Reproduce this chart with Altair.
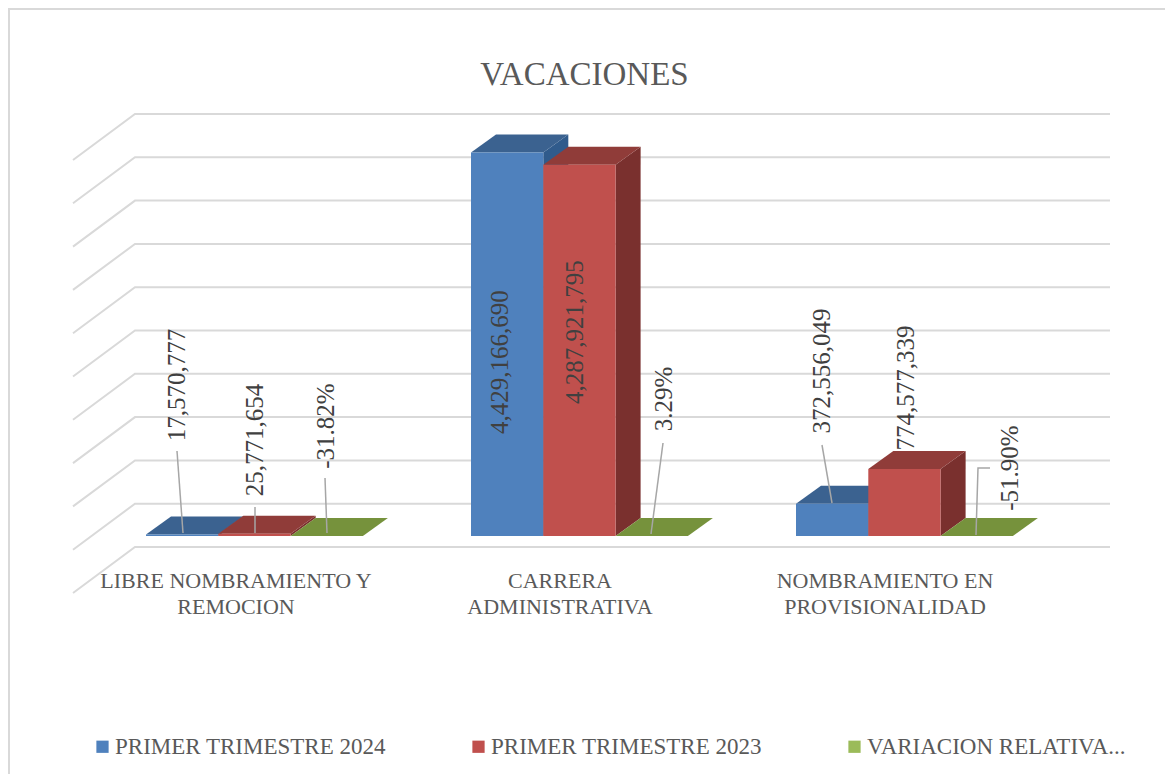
import altair as alt
import pandas as pd

# ---- values ----
CATEGORIES = ["LIBRE NOMBRAMIENTO Y REMOCION", "CARRERA ADMINISTRATIVA", "NOMBRAMIENTO EN PROVISIONALIDAD"]
CATEGORY_LINES = [["LIBRE NOMBRAMIENTO Y", "REMOCION"], ["CARRERA", "ADMINISTRATIVA"], ["NOMBRAMIENTO EN", "PROVISIONALIDAD"]]
SERIES = ["PRIMER TRIMESTRE 2024", "PRIMER TRIMESTRE 2023", "VARIACION RELATIVA..."]
S2024 = [17570777, 4429166690, 372556049]
S2023 = [25771654, 4287921795, 774577339]
VARIATION = [-0.3182, 0.0329, -0.5190]
LABELS_2024 = ["17,570,777", "4,429,166,690", "372,556,049"]
LABELS_2023 = ["25,771,654", "4,287,921,795", "774,577,339"]
LABELS_VAR = ["-31.82%", "3.29%", "-51.90%"]
GRID_STEP = 500_000_000
GRID_COUNT = 11

# ---- layout (page pixels) ----
W, H = 1157, 766
PX_PER_UNIT = 86.6e-9
BASE_Y = 536
def val(py):
    return (BASE_Y - py) / PX_PER_UNIT
X0, STEP, BAR = 146, 325, 72.3
DX, DY = 25, 18
WALL_L, WALL_R, WALL_DX, WALL_DY, WALL_OFF = 135, 1110, -62, 46, 11

x_scale = alt.Scale(domain=[8, 8 + W], range=[0, W])
y_scale = alt.Scale(domain=[val(8 + H), val(8)], range=[H, 0])
X = lambda f="x": alt.X(f"{f}:Q", scale=x_scale, axis=None)
Y = lambda f="y": alt.Y(f"{f}:Q", scale=y_scale, axis=None)

COLORS = ["#4F81BD", "#C0504D", "#9BBB59"]
TOPS = ["#3B6290", "#903C39", "#76923C"]
SIDES = ["#305B8C", "#7A302E", "#5F7530"]
dy_val = DY / PX_PER_UNIT

# ---- grid ----
grid_rows = []
for k in range(GRID_COUNT):
    v = k * GRID_STEP - WALL_OFF / PX_PER_UNIT
    grid_rows += [
        {"k": k, "o": 0, "x": WALL_L + WALL_DX, "y": v - WALL_DY / PX_PER_UNIT},
        {"k": k, "o": 1, "x": WALL_L, "y": v},
        {"k": k, "o": 2, "x": WALL_R, "y": v},
    ]
grid = alt.Chart(pd.DataFrame(grid_rows)).mark_line(color="#D9D9D9", strokeWidth=2).encode(
    x=X(), y=Y(), detail="k:N", order="o:Q")

# ---- frame: only the top and left edges show in the reference ----
frame_df = pd.DataFrame({"o": [0, 1, 2], "x": [1165, 9, 9], "y": [val(9), val(9), val(774)]})
frame = alt.Chart(frame_df).mark_line(color="#D9D9D9", strokeWidth=2).encode(x=X(), y=Y(), order="o:Q")

# ---- boxes ----
layers = [grid]
values = [S2024, S2023, [v for v in VARIATION]]

LABEL_POS = [
    [(177, 385), (500, 362), (822, 371)],
    [(255, 440), (575, 332), (906, 388)],
    [(326, 426), (664, 399), (1010, 468)],
]
ALL_LABELS = [LABELS_2024, LABELS_2023, LABELS_VAR]
label_rows = []
for s in range(3):
    for c in range(3):
        px, py = LABEL_POS[s][c]
        label_rows.append({"t": ALL_LABELS[s][c], "x": px, "y": val(py), "behind": s == 1 and c == 2})
label_df = pd.DataFrame(label_rows)
label_style = dict(angle=270, fontSize=25, font="Liberation Serif", color="#404040", align="center", baseline="middle")
# one label is drawn behind the boxes in the reference
layers.append(alt.Chart(label_df[label_df.behind]).mark_text(**label_style).encode(x=X(), y=Y(), text="t:N"))

for s in range(3):
    front, top, side = [], [], []
    for c in range(3):
        x0 = X0 + STEP * c + BAR * s
        x1 = x0 + BAR
        v = values[s][c]
        front.append({"x": x0, "x2": x1, "y": 0, "y2": v, "series": SERIES[s], "cat": CATEGORIES[c]})
        top += [{"c": c, "x": x0, "x2": x1, "y": v},
                {"c": c, "x": x0 + DX, "x2": x1 + DX, "y": v + dy_val}]
        side += [{"c": c, "x": x1, "y": v, "y2": 0},
                 {"c": c, "x": x1 + DX, "y": v + dy_val, "y2": dy_val}]
    layers.append(alt.Chart(pd.DataFrame(side)).mark_area(color=SIDES[s], orient="vertical").encode(
        x=X(), y=Y(), y2="y2:Q", detail="c:N"))
    layers.append(alt.Chart(pd.DataFrame(top)).mark_area(color=TOPS[s], orient="horizontal").encode(
        x=X(), x2="x2:Q", y=Y(), detail="c:N"))
    layers.append(alt.Chart(pd.DataFrame(front)).mark_rect().encode(
        x=X(), x2="x2:Q", y=Y(), y2="y2:Q",
        color=alt.Color("series:N", scale=alt.Scale(domain=SERIES, range=COLORS),
                        legend=alt.Legend(title=None, orient="none", legendX=83, legendY=727, columns=3,
                                          symbolType="square", symbolSize=150, symbolStrokeWidth=0,
                                          labelFont="Liberation Serif", labelFontSize=23, labelColor="#595959",
                                          labelLimit=400, columnPadding=81, labelOffset=1, gridAlign="all"))))

# ---- leader lines ----
LEADERS = [
    [(177, 451), (183, 533)],
    [(255, 507), (255, 533)],
    [(325, 478), (327, 533)],
    [(663, 443), (651, 534)],
    [(822, 445), (832, 503)],
    [(990, 468), (978, 468), (976, 535)],
]
leader_rows = []
for i, pts in enumerate(LEADERS):
    for o, (px, py) in enumerate(pts):
        leader_rows.append({"k": i, "o": o, "x": px, "y": val(py)})
layers.append(alt.Chart(pd.DataFrame(leader_rows)).mark_line(color="#A6A6A6", strokeWidth=1.5).encode(
    x=X(), y=Y(), detail="k:N", order="o:Q"))

layers.append(alt.Chart(label_df[~label_df.behind]).mark_text(**label_style).encode(x=X(), y=Y(), text="t:N"))

# ---- category labels ----
CAT_X = [236, 560, 885]
CAT_Y = [581, 607]
cat_rows = []
for c, lines in enumerate(CATEGORY_LINES):
    for i, line in enumerate(lines):
        cat_rows.append({"t": line, "x": CAT_X[c], "y": val(CAT_Y[i])})
layers.append(alt.Chart(pd.DataFrame(cat_rows)).mark_text(
    fontSize=22, font="Liberation Serif", color="#595959", align="center", baseline="middle").encode(
    x=X(), y=Y(), text="t:N"))

chart = alt.layer(frame, *layers).properties(
    width=W, height=H, padding=0, autosize=alt.AutoSizeParams(type="none"),
    title=alt.TitleParams("VACACIONES", font="Liberation Serif", fontSize=33, fontWeight="normal",
                          color="#595959", anchor="middle", dy=113, dx=-2, offset=0, baseline="alphabetic"),
).configure_view(stroke=None)

chart.save("out.html", embed_options={"renderer": "svg", "actions": False})
